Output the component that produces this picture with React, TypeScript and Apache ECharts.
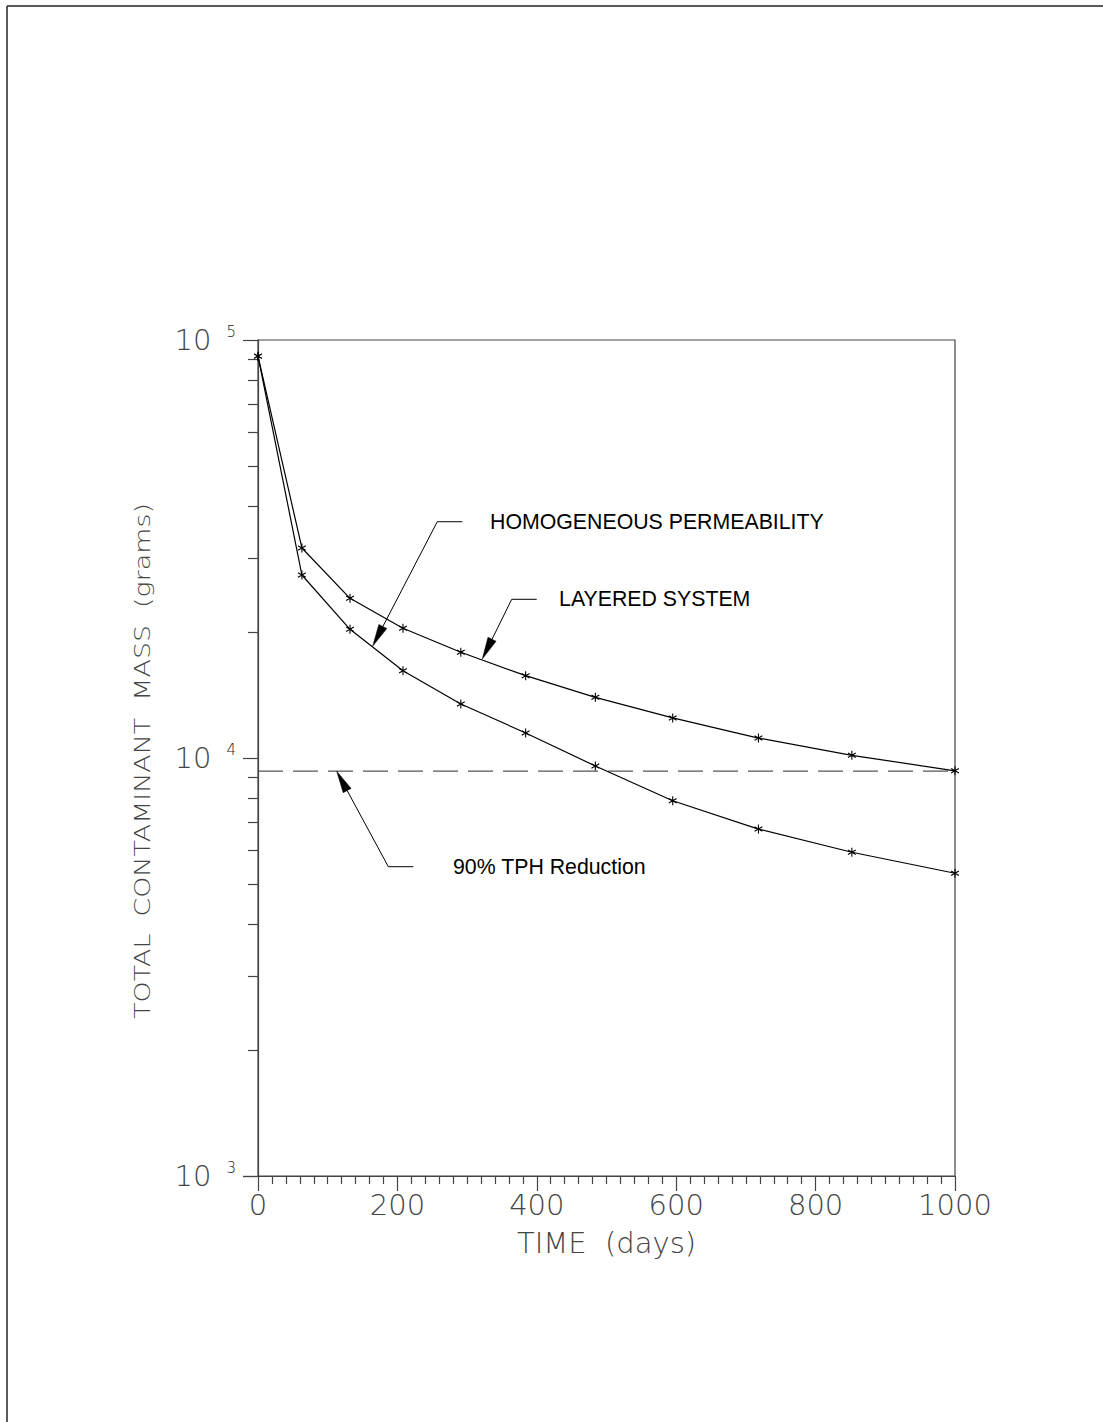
import React, { useEffect, useRef } from 'react';
import * as echarts from 'echarts';

// ---- data ----
const timeDays = [0, 63, 132, 208, 291, 384, 484, 595, 718, 852, 1000];
const homogeneousMass = [91500, 27400, 20320, 16170, 13470, 11480, 9570, 7900, 6760, 5950, 5300];
const layeredMass = [91500, 31800, 24100, 20430, 17900, 15740, 13970, 12470, 11160, 10150, 9320];
const reductionLevel = 9300;
const reductionSpan = [0, 1000];
const xMin = 0;
const xMax = 1000;
const xStep = 200;
const yMin = 1000;
const yMax = 100000;

// annotation anchors, in data coordinates (time, mass)
const annotations = [
  { label: 'HOMOGENEOUS PERMEABILITY', tip: [164.6, 18530], knee: [257.2, 36750], end: [293.1, 36750], textAt: [332.9, 36750] },
  { label: 'LAYERED SYSTEM', tip: [321.8, 17250], knee: [364.0, 23970], end: [399.9, 23970], textAt: [431.9, 23970] },
  { label: '90% TPH Reduction', tip: [112.9, 9300], knee: [187.0, 5495], end: [222.8, 5495], textAt: [279.8, 5495] },
];

const axisColor = '#444';
const axisFont = "'DejaVu Sans', sans-serif";
const noteFont = "'Liberation Sans', Arial, sans-serif";
const starPath = 'path://M5,0L5,10M0.67,2.5L9.33,7.5M0.67,7.5L9.33,2.5';

export default function App() {
  const ref = useRef<HTMLDivElement>(null);

  useEffect(() => {
    if (!ref.current) return;
    const chart = echarts.init(ref.current, undefined, { renderer: 'svg' });

    const lineSeries = (name: string, values: number[]) => ({
      name,
      type: 'line',
      data: timeDays.map((t, i) => [t, values[i]]),
      symbol: starPath,
      symbolSize: 9,
      symbolKeepAspect: true,
      showSymbol: true,
      itemStyle: { color: '#000', borderColor: '#000', borderWidth: 1.1 },
      lineStyle: { color: '#000', width: 1.2 },
      z: 3,
    });

    chart.setOption({
      animation: false,
      backgroundColor: '#fff',
      grid: {
        left: 258, top: 340, right: 148, bottom: 246,
        show: true, borderColor: axisColor, borderWidth: 1.2, backgroundColor: 'transparent',
      },
      xAxis: {
        type: 'value', min: xMin, max: xMax, interval: xStep,
        name: 'TIME  (days)', nameLocation: 'middle', nameGap: 52,
        nameTextStyle: { fontFamily: axisFont, fontSize: 29, fontWeight: 200, color: axisColor },
        axisLine: { show: true, lineStyle: { color: axisColor, width: 1.2 } },
        axisTick: { show: true, inside: false, length: 15, lineStyle: { color: axisColor, width: 1.2 } },
        minorTick: { show: true, splitNumber: 10, length: 8, lineStyle: { color: axisColor, width: 1.2 } },
        axisLabel: {
          margin: 14, fontFamily: axisFont, fontSize: 29, fontWeight: 200, color: axisColor,
          formatter: (v: number) => String(v),
        },
        splitLine: { show: false },
        minorSplitLine: { show: false },
      },
      yAxis: {
        type: 'log', logBase: 10, min: yMin, max: yMax,
        axisLine: { show: true, lineStyle: { color: axisColor, width: 1.2 } },
        axisTick: { show: true, inside: false, length: 15, lineStyle: { color: axisColor, width: 1.2 } },
        minorTick: { show: true, splitNumber: 9, length: 10, lineStyle: { color: axisColor, width: 1.2 } },
        axisLabel: {
          margin: 22,
          formatter: (v: number) => `{b|10}{s|${Math.round(Math.log10(v))}}`,
          rich: {
            b: { fontFamily: axisFont, fontSize: 29, fontWeight: 200, color: axisColor, lineHeight: 32 },
            s: { fontFamily: axisFont, fontSize: 15, fontWeight: 300, color: '#222', padding: [0, 0, 0, 15], verticalAlign: 'top', lineHeight: 32 },
          },
        },
        splitLine: { show: false },
        minorSplitLine: { show: false },
      },
      series: [
        {
          name: '90% TPH Reduction',
          type: 'line',
          data: reductionSpan.map((t) => [t, reductionLevel]),
          symbol: 'none',
          lineStyle: { color: '#555', width: 1.3, type: [25, 10] },
          z: 2,
        },
        lineSeries('LAYERED SYSTEM', layeredMass),
        lineSeries('HOMOGENEOUS PERMEABILITY', homogeneousMass),
      ],
    });

    const px = (d: number[]) => chart.convertToPixel({ gridIndex: 0 }, d) as number[];
    const graphics: any[] = [];
    // page frame (top and left edges)
    graphics.push({ type: 'line', shape: { x1: 7, y1: 6, x2: 1103, y2: 6 }, style: { stroke: '#222', lineWidth: 1.3 } });
    graphics.push({ type: 'line', shape: { x1: 7, y1: 6, x2: 7, y2: 1422 }, style: { stroke: '#333', lineWidth: 1.6 } });
    // y axis title
    graphics.push({
      type: 'text', x: 143, y: 761, rotation: Math.PI / 2, scaleX: 1.28,
      style: {
        text: 'TOTAL  CONTAMINANT  MASS  (grams)', fontFamily: axisFont, fontSize: 21, fontWeight: 200,
        fill: axisColor, align: 'center', verticalAlign: 'middle',
      },
    });
    annotations.forEach((a) => {
      const tip = px(a.tip);
      const knee = px(a.knee);
      const end = px(a.end);
      const txt = px(a.textAt);
      const dx = tip[0] - knee[0];
      const dy = tip[1] - knee[1];
      const len = Math.hypot(dx, dy);
      const ux = dx / len, uy = dy / len;
      const headLen = 22, headHalf = 4.5;
      const bx = tip[0] - ux * headLen, by = tip[1] - uy * headLen;
      graphics.push({
        type: 'polyline',
        shape: { points: [end, knee, [bx, by]] },
        style: { stroke: '#000', lineWidth: 1, fill: 'none' },
        z: 10,
      });
      graphics.push({
        type: 'polygon',
        shape: { points: [tip, [bx - uy * headHalf, by + ux * headHalf], [bx + uy * headHalf, by - ux * headHalf]] },
        style: { fill: '#000', stroke: '#000', lineWidth: 0.5 },
        z: 10,
      });
      graphics.push({
        type: 'text', x: txt[0], y: txt[1],
        style: { text: a.label, fontFamily: noteFont, fontSize: 21.3, fill: '#000', align: 'left', verticalAlign: 'middle' },
        z: 10,
      });
    });
    chart.setOption({ graphic: graphics });

    return () => chart.dispose();
  }, []);

  return <div ref={ref} style={{ position: 'absolute', left: 0, top: 0, width: 1103, height: 1422 }} />;
}
